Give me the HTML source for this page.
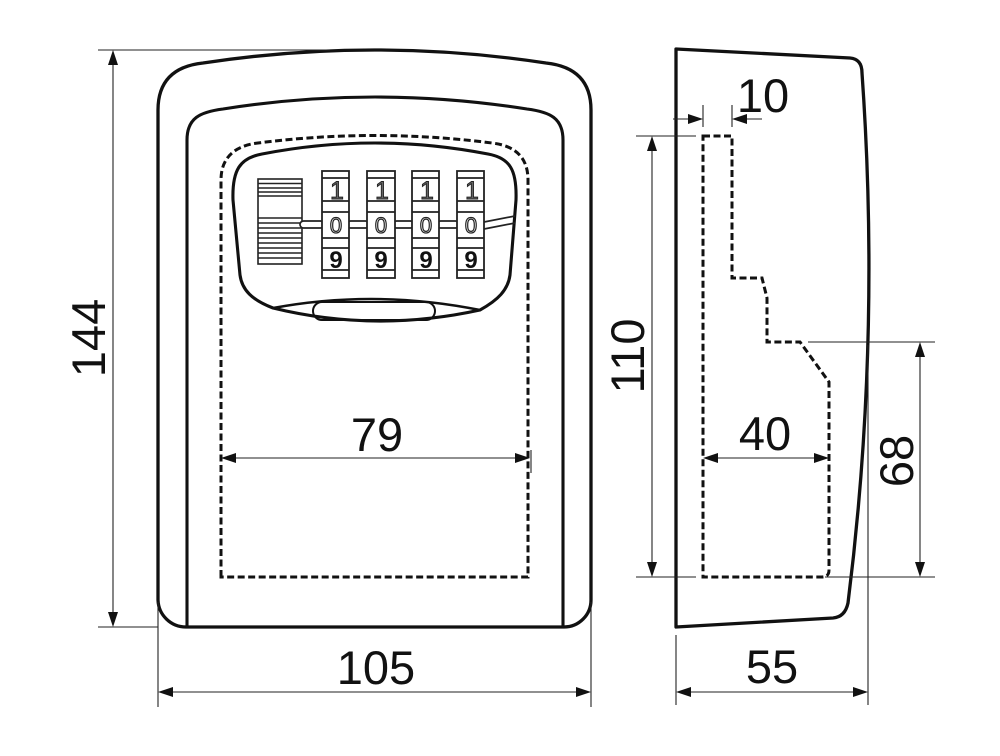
<!DOCTYPE html>
<html><head><meta charset="utf-8"><style>
html,body{margin:0;padding:0;background:#fff;}
svg{display:block;}
text{font-family:"Liberation Sans",Arial,sans-serif;}
</style></head><body>
<svg width="1000" height="756" viewBox="0 0 1000 756" xmlns="http://www.w3.org/2000/svg">
<rect width="1000" height="756" fill="#fff"/>

<!-- ============ FRONT VIEW ============ -->
<g fill="none" stroke="#111" stroke-linejoin="round" stroke-linecap="round">
  <path stroke-width="3.3" d="M158,600 L158,110 C158,80 175,66 203,63 Q374.5,37 546,63 C574,66 591,80 591,110 L591,600 A27,27 0 0 1 564,627 L186,627 A28,28 0 0 1 158,600 Z"/>
  <path stroke-width="3.1" d="M187,627 L187,140 C187,118 200,112 223,109 Q375,85 527,109 C550,112 563,118 563,140 L563,627"/>
  <path stroke-width="3.1" d="M273,308 C252,300 242,290 240,275 L233,200 C232,170 240,158 262,154 Q375,132 488,154 C510,158 517,170 516,200 L510,275 C508,290 498,300 480,310 Q375,333 273,308 Z"/>
  <path stroke-width="2.5" d="M273,308 Q376,289 480,310"/>
  <rect x="313" y="302" width="122" height="18" rx="9" stroke-width="2"/>
</g>

<path fill="none" stroke="#111" stroke-width="3" stroke-dasharray="7 3.5" d="M221,577 L221,180 C221,160 232,146 258,143 Q375,128 492,143 C518,146 528,160 528,180 L528,577 Z"/>

<!-- barcode -->
<g fill="none" stroke="#222" stroke-width="1.6">
  <rect x="258" y="179" width="44" height="85"/>
  <path d="M258,183.5H302 M258,188H302 M258,192H302 M258,196H302 M258,218H302 M258,223H302 M258,228H302 M258,233H302 M258,238H302 M258,243H302 M258,248H302 M258,253H302 M258,258H302"/>
</g>

<!-- connectors -->
<g fill="#fff" stroke="#222" stroke-width="1.7">
  <rect x="300" y="221" width="24" height="7" rx="3.5"/>
  <rect x="347" y="221" width="22" height="7" rx="3.5"/>
  <rect x="393" y="221" width="21" height="7" rx="3.5"/>
  <rect x="437" y="221" width="22" height="7" rx="3.5"/>
  <path fill="none" d="M484,222 L515,216 M484,229 L515,223"/>
</g>

<!-- wheels -->
<g fill="#fff" stroke="#222" stroke-width="1.8">
  <rect x="322" y="171" width="27" height="107"/>
  <path fill="none" d="M322,178H349 M322,201H349 M322,212H349 M322,238H349 M322,248H349 M322,270H349"/>
  <rect x="367" y="171" width="28" height="107"/>
  <path fill="none" d="M367,178H395 M367,201H395 M367,212H395 M367,238H395 M367,248H395 M367,270H395"/>
  <rect x="412" y="171" width="27" height="107"/>
  <path fill="none" d="M412,178H439 M412,201H439 M412,212H439 M412,238H439 M412,248H439 M412,270H439"/>
  <rect x="457" y="171" width="27" height="107"/>
  <path fill="none" d="M457,178H484 M457,201H484 M457,212H484 M457,238H484 M457,248H484 M457,270H484"/>
</g>
<g font-size="25" text-anchor="middle" fill="#666" stroke="#222" stroke-width="0.9">
  <text x="337" y="199">1</text>
  <text x="382" y="199">1</text>
  <text x="427" y="199">1</text>
  <text x="472" y="199">1</text>
</g>
<g font-size="22" text-anchor="middle" fill="#fff" stroke="#222" stroke-width="1.2">
  <text x="336" y="233">0</text>
  <text x="381" y="233">0</text>
  <text x="426" y="233">0</text>
  <text x="471" y="233">0</text>
</g>
<g font-size="24" font-weight="bold" text-anchor="middle" fill="#111">
  <text x="336" y="268">9</text>
  <text x="381" y="268">9</text>
  <text x="426" y="268">9</text>
  <text x="471" y="268">9</text>
</g>

<!-- ============ FRONT DIMENSIONS ============ -->
<g stroke="#222" stroke-width="1.1" fill="none">
  <path d="M98,50 H330 M98,627 H158 M113,60 V617"/>
  <path d="M158,602 V707 M591,602 V707 M168,692 H581"/>
  <path d="M231,458 H521 M531,450 V473"/>
</g>
<g fill="#111">
  <polygon points="113,50 108,65 118,65"/>
  <polygon points="113,627 108,612 118,612"/>
  <polygon points="158,692 173,687 173,697"/>
  <polygon points="591,692 576,687 576,697"/>
  <polygon points="221,458 236,453 236,463"/>
  <polygon points="530,458 515,453 515,463"/>
</g>
<g font-size="47" fill="#111" text-anchor="middle">
  <text transform="translate(105,338) rotate(-90)">144</text>
  <text x="376" y="684">105</text>
  <text x="377" y="451">79</text>
</g>

<!-- ============ SIDE VIEW ============ -->
<path fill="none" stroke="#111" stroke-width="3.3" stroke-linejoin="round" d="M676,49 L850,58 Q862,59 862,73 Q881,341 848,603 Q845,617 833,618 L676,627 Z"/>
<path fill="none" stroke="#111" stroke-width="3" stroke-dasharray="7 3.5" d="M703,136 L732,136 L732,278 L762,278 L767,298 L767,342 L800,342 L829,382 L829,570 Q829,577 822,577 L703,577 Z"/>

<g stroke="#222" stroke-width="1.1" fill="none">
  <path d="M673,119 H695 M740,119 H762 M703,105 V127 M732,105 V127"/>
  <path d="M636,136 H696 M636,577 H696 M652,146 V567"/>
  <path d="M808,342 H935 M825,577 H935 M920,352 V567"/>
  <path d="M713,458 H819"/>
  <path d="M676,635 V705 M868,345 V705 M686,692 H858"/>
</g>
<g fill="#111">
  <polygon points="703,119 688,114 688,124"/>
  <polygon points="732,119 747,114 747,124"/>
  <polygon points="652,136 647,151 657,151"/>
  <polygon points="652,577 647,562 657,562"/>
  <polygon points="920,342 915,357 925,357"/>
  <polygon points="920,577 915,562 925,562"/>
  <polygon points="703,458 718,453 718,463"/>
  <polygon points="829,458 814,453 814,463"/>
  <polygon points="676,692 691,687 691,697"/>
  <polygon points="868,692 853,687 853,697"/>
</g>
<g font-size="47" fill="#111" text-anchor="middle">
  <text x="763" y="112">10</text>
  <text transform="translate(644,356) rotate(-90)">110</text>
  <text transform="translate(913,461) rotate(-90)">68</text>
  <text x="765" y="450">40</text>
  <text x="772" y="683">55</text>
</g>
</svg>
</body></html>
